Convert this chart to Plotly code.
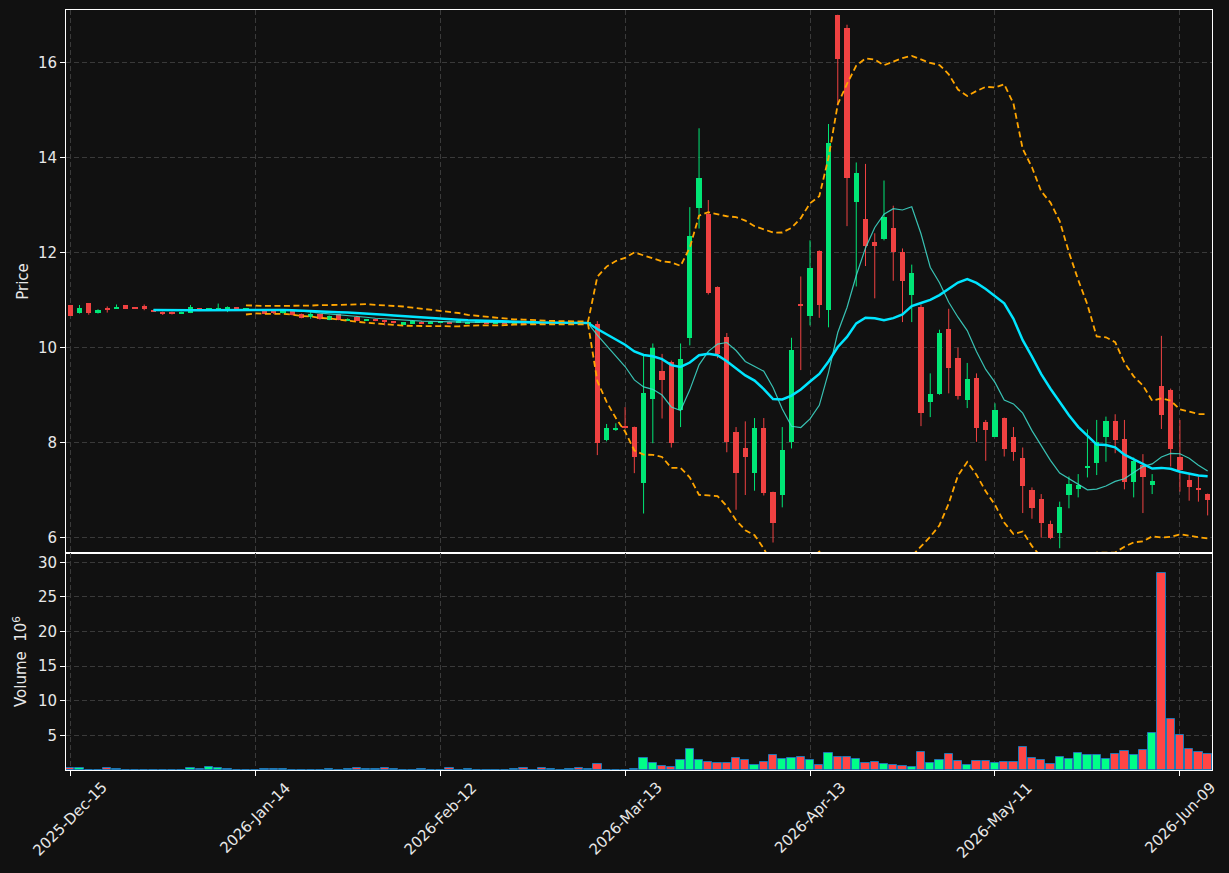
import pandas as pd
import plotly.graph_objects as go

# ---------------- data ----------------
holidays = ["2025-12-25", "2026-01-01", "2026-01-19", "2026-02-16", "2026-04-03", "2026-05-25"]
dates = pd.bdate_range("2025-12-15", "2026-06-12", freq="C", holidays=holidays)

opens = [10.89, 10.72, 10.93, 10.73, 10.81, 10.81, 10.89, 10.825, 10.87, 10.78,
         10.73, 10.73, 10.71, 10.73, 10.81, 10.79, 10.80, 10.81, 10.82, 10.80,
         10.79, 10.76, 10.735, 10.72, 10.76, 10.70, 10.63, 10.69, 10.575, 10.69,
         10.57, 10.645, 10.57, 10.59, 10.545, 10.525, 10.476, 10.50, 10.54, 10.50,
         10.52, 10.53, 10.525, 10.50, 10.52, 10.515, 10.51, 10.51, 10.50, 10.515,
         10.51, 10.515, 10.50, 10.51, 10.50, 10.51, 10.50, 10.50, 8.05, 8.25,
         8.34, 8.32, 7.15, 8.92, 9.50, 9.69, 8.67, 10.20, 12.93, 12.81,
         11.27, 10.22, 8.22, 7.88, 7.35, 8.30, 6.95, 6.90, 8.01, 10.91,
         10.65, 12.03, 10.79, 17.00, 16.72, 13.05, 12.70, 12.21, 12.28, 12.51,
         12.00, 11.11, 10.85, 8.84, 9.02, 10.39, 9.78, 8.90, 9.35, 8.42,
         8.12, 8.51, 8.12, 7.67, 7.00, 6.81, 6.28, 6.08, 6.90, 7.01,
         7.47, 7.57, 8.12, 8.45, 8.07, 7.17, 7.52, 7.10, 9.19, 9.10,
         7.70, 7.21, 7.04, 6.91]
highs = [10.89, 10.89, 10.93, 10.80, 10.86, 10.90, 10.89, 10.83, 10.90, 10.79,
         10.75, 10.75, 10.75, 10.89, 10.82, 10.81, 10.92, 10.86, 10.84, 10.81,
         10.80, 10.77, 10.75, 10.78, 10.77, 10.71, 10.75, 10.70, 10.67, 10.70,
         10.61, 10.66, 10.59, 10.60, 10.575, 10.54, 10.53, 10.57, 10.55, 10.55,
         10.53, 10.54, 10.54, 10.54, 10.53, 10.53, 10.52, 10.52, 10.52, 10.52,
         10.52, 10.52, 10.52, 10.52, 10.52, 10.52, 10.52, 10.55, 8.385, 8.40,
         8.74, 8.33, 9.82, 10.08, 9.86, 9.72, 10.08, 12.95, 14.61, 13.10,
         11.28, 10.30, 8.32, 8.44, 8.51, 8.51, 6.96, 8.32, 10.20, 11.49,
         12.25, 12.04, 14.70, 17.00, 16.79, 13.89, 13.86, 12.40, 13.51, 12.98,
         12.08, 11.74, 10.90, 9.45, 10.37, 10.81, 9.99, 9.67, 9.45, 8.47,
         8.82, 8.52, 8.32, 7.89, 7.05, 6.91, 6.35, 6.75, 7.28, 7.33,
         8.27, 8.47, 8.54, 8.59, 8.47, 7.68, 7.75, 7.33, 10.24, 9.13,
         8.47, 7.35, 7.28, 6.92]
lows = [10.665, 10.71, 10.685, 10.71, 10.73, 10.81, 10.81, 10.81, 10.78, 10.75,
        10.68, 10.69, 10.70, 10.72, 10.79, 10.78, 10.79, 10.74, 10.78, 10.79,
        10.77, 10.71, 10.70, 10.71, 10.67, 10.61, 10.60, 10.58, 10.57, 10.57,
        10.56, 10.55, 10.555, 10.55, 10.46, 10.50, 10.47, 10.49, 10.49, 10.49,
        10.51, 10.49, 10.51, 10.49, 10.51, 10.50, 10.50, 10.49, 10.49, 10.49,
        10.50, 10.49, 10.49, 10.49, 10.49, 10.49, 10.49, 7.73, 8.02, 8.24,
        8.29, 7.35, 6.50, 7.98, 8.50, 7.89, 8.32, 10.04, 12.50, 11.11,
        9.77, 7.79, 6.58, 6.89, 6.98, 6.88, 5.89, 6.63, 7.87, 9.52,
        10.46, 10.62, 10.42, 15.09, 12.55, 11.28, 11.71, 11.03, 12.25, 11.40,
        10.53, 10.53, 8.34, 8.53, 9.00, 9.03, 8.90, 8.72, 8.01, 7.61,
        8.11, 7.70, 7.61, 6.51, 6.39, 5.99, 5.96, 5.77, 6.61, 6.84,
        7.26, 7.31, 7.59, 7.77, 7.01, 6.84, 6.51, 6.91, 8.28, 7.49,
        6.96, 6.77, 6.75, 6.46]
closes = [10.665, 10.83, 10.72, 10.785, 10.80, 10.85, 10.81, 10.815, 10.81, 10.76,
          10.72, 10.72, 10.74, 10.85, 10.80, 10.80, 10.83, 10.82, 10.81, 10.80,
          10.78, 10.72, 10.73, 10.77, 10.68, 10.62, 10.70, 10.59, 10.66, 10.575,
          10.595, 10.555, 10.575, 10.555, 10.54, 10.52, 10.526, 10.56, 10.50, 10.54,
          10.52, 10.50, 10.53, 10.53, 10.52, 10.505, 10.51, 10.50, 10.51, 10.50,
          10.51, 10.50, 10.51, 10.50, 10.51, 10.50, 10.51, 7.99, 8.30, 8.31,
          8.32, 7.68, 9.04, 9.985, 9.31, 7.99, 9.75, 12.35, 13.565, 11.14,
          9.86, 8.01, 7.36, 7.68, 8.30, 6.94, 6.31, 7.84, 9.94, 10.86,
          11.67, 10.88, 14.30, 16.07, 13.56, 13.67, 12.13, 12.14, 12.74, 12.01,
          11.40, 11.56, 8.62, 9.02, 10.30, 9.56, 8.98, 9.33, 8.31, 8.25,
          8.68, 7.85, 7.80, 7.07, 6.62, 6.30, 5.99, 6.64, 7.12, 7.10,
          7.50, 8.00, 8.45, 8.04, 7.17, 7.61, 7.26, 7.19, 8.58, 7.86,
          7.42, 7.05, 7.00, 6.79]
volumes = [0.30, 0.30, 0.02, 0.02, 0.30, 0.15, 0.05, 0.02, 0.05, 0.05,
           0.05, 0.02, 0.05, 0.30, 0.20, 0.47, 0.30, 0.15, 0.05, 0.02,
           0.02, 0.15, 0.15, 0.15, 0.05, 0.05, 0.05, 0.05, 0.15, 0.02,
           0.15, 0.30, 0.15, 0.15, 0.30, 0.15, 0.05, 0.05, 0.15, 0.05,
           0.02, 0.30, 0.02, 0.15, 0.05, 0.05, 0.05, 0.05, 0.15, 0.30,
           0.02, 0.30, 0.15, 0.02, 0.15, 0.30, 0.15, 0.90, 0.05, 0.05,
           0.02, 0.15, 1.74, 0.97, 0.58, 0.39, 1.40, 3.00, 1.40, 1.11,
           0.97, 0.97, 1.74, 1.40, 0.68, 1.11, 2.17, 1.55, 1.74, 1.88,
           1.40, 0.68, 2.40, 1.88, 1.88, 1.55, 0.97, 1.11, 0.82, 0.68,
           0.62, 0.39, 2.56, 0.97, 1.40, 2.27, 1.26, 0.77, 1.26, 1.26,
           0.97, 1.10, 1.10, 3.30, 1.70, 1.40, 0.82, 1.84, 1.55, 2.42,
           2.13, 2.13, 1.55, 2.27, 2.70, 2.13, 2.85, 5.30, 28.50, 7.34,
           5.00, 3.00, 2.56, 2.27]

price_ticks = [6, 8, 10, 12, 14, 16]
volume_ticks = [5, 10, 15, 20, 25, 30]
date_tick_step = 20

# ---------------- styling ----------------
BG = "#111111"
FG = "#e8e8e8"
UP_C, DN_C = "#00e676", "#ef4242"
VUP_C, VDN_C = "#00ff88", "#ff4545"
GRID = "#3a3a3a"
FS = 15

n = len(closes)
idx = list(range(n))
up = [c >= o for o, c in zip(opens, closes)]

s = pd.Series(closes)
sma10 = s.rolling(10).mean()
sma20 = s.rolling(20, min_periods=10).mean()
bb_mid = s.rolling(20).mean()
bb_std = s.rolling(20).std(ddof=0)
bb_up = bb_mid + 2 * bb_std
bb_lo = bb_mid - 2 * bb_std

fig = go.Figure()

# wicks
for flag, col in ((True, UP_C), (False, DN_C)):
    wx, wy = [], []
    for i in idx:
        if up[i] == flag:
            wx += [i, i, None]
            wy += [lows[i], highs[i], None]
    fig.add_trace(go.Scatter(x=wx, y=wy, mode="lines", line=dict(color=col, width=1),
                             hoverinfo="skip", showlegend=False, xaxis="x", yaxis="y"))

# bodies
for flag, col in ((True, UP_C), (False, DN_C)):
    bx = [i for i in idx if up[i] == flag]
    base = [min(opens[i], closes[i]) for i in bx]
    hgt = [max(abs(closes[i] - opens[i]), 0.02) for i in bx]
    fig.add_trace(go.Bar(x=bx, y=hgt, base=base, width=0.56,
                         marker=dict(color=col, line=dict(width=0)),
                         showlegend=False, xaxis="x", yaxis="y"))

# moving averages and Bollinger bands
fig.add_trace(go.Scatter(x=idx, y=sma10, mode="lines",
                         line=dict(color="rgba(64,224,208,0.85)", width=1.2),
                         showlegend=False, xaxis="x", yaxis="y"))
fig.add_trace(go.Scatter(x=idx, y=sma20, mode="lines",
                         line=dict(color="#00e5ff", width=2.5),
                         showlegend=False, xaxis="x", yaxis="y"))
for band in (bb_up, bb_lo):
    fig.add_trace(go.Scatter(x=idx, y=band, mode="lines",
                             line=dict(color="#ffa500", width=1.8, dash="6px,3.5px"),
                             showlegend=False, xaxis="x", yaxis="y"))

# volume
fig.add_trace(go.Bar(x=idx, y=volumes, width=0.9,
                     marker=dict(color=[VUP_C if u else VDN_C for u in up],
                                 line=dict(color="#1f77b4", width=1)),
                     showlegend=False, xaxis="x2", yaxis="y2"))

tickvals = list(range(0, n, date_tick_step))
ticktext = [dates[i].strftime("%Y-%b-%d") for i in tickvals]

xr = [-0.46, 123.47]
split = 217 / 760
axis_common = dict(showline=True, linecolor="white", linewidth=1, mirror=True,
                   gridcolor=GRID, griddash="5px,3px", gridwidth=1, zeroline=False)

# rotated date labels centred under their ticks (matplotlib-like placement)
for tv, tt in zip(tickvals, ticktext):
    fig.add_annotation(x=tv, xref="x2", y=0, yref="paper", text=tt,
                       textangle=-45, xanchor="center", yanchor="top",
                       yshift=-6, showarrow=False,
                       font=dict(size=FS, color=FG, family="DejaVu Sans"))

fig.update_layout(
    width=1229, height=873,
    margin=dict(l=66, r=17, t=10, b=103),
    paper_bgcolor=BG, plot_bgcolor=BG,
    barmode="overlay", bargap=0,
    font=dict(family="DejaVu Sans", size=FS, color=FG),
    xaxis=dict(range=xr, domain=[0, 1], anchor="y", tickvals=tickvals,
               showticklabels=False, ticks="", **axis_common),
    yaxis=dict(range=[5.669, 17.10], domain=[split, 1], anchor="x",
               tickvals=price_ticks, ticks="outside", ticklen=5, tickcolor="white",
               tickfont=dict(size=FS, color=FG),
               title=dict(text="Price", standoff=5, font=dict(size=FS, color=FG)),
               automargin=False, **axis_common),
    xaxis2=dict(range=xr, domain=[0, 1], anchor="y2", matches="x", tickvals=tickvals,
                showticklabels=False, ticks="outside", ticklen=5,
                tickcolor="white", automargin=False, **axis_common),
    yaxis2=dict(range=[0, 31.34], domain=[0, split], anchor="x2",
                tickvals=volume_ticks, ticks="outside", ticklen=5, tickcolor="white",
                tickfont=dict(size=FS, color=FG),
                title=dict(text="Volume  10<sup>6</sup>", standoff=7, font=dict(size=FS, color=FG)),
                automargin=False, **axis_common),
)

fig.write_html("out.html")
